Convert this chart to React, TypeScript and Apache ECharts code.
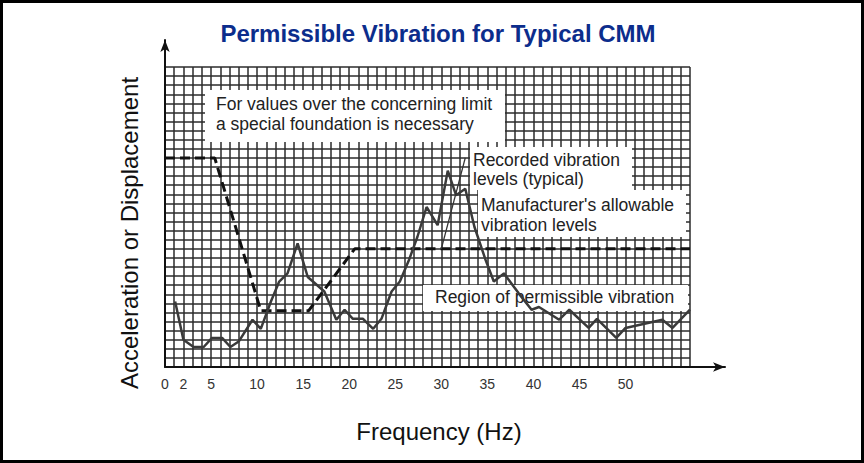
import React, { useEffect, useRef } from "react";
import * as echarts from "echarts";

// Frequency (Hz) / relative level (grid rows)
const recordedHz = [1.1, 2.0, 3.1, 4.2, 5.1, 6.2, 7.1, 8.0, 9.5, 10.4, 11.5, 12.4, 13.3, 14.4, 15.5, 17.3, 18.6, 19.5, 20.4, 21.5, 22.6, 23.5, 24.6, 25.5, 26.5, 27.4, 28.4, 29.6, 30.7, 31.6, 32.6, 33.6, 34.8, 35.7, 36.8, 38.4, 39.8, 40.6, 42.8, 43.9, 46.0, 46.9, 49.0, 50.0, 54.0, 55.1, 57.0];
const recordedLevel = [7.2, 3.0, 2.2, 2.2, 3.2, 3.2, 2.2, 2.8, 5.2, 4.2, 7.2, 9.4, 10.3, 13.6, 9.9, 8.3, 5.2, 6.3, 5.3, 5.3, 4.2, 5.3, 8.3, 9.4, 11.8, 14.3, 17.6, 15.6, 21.6, 18.9, 19.6, 15.4, 11.8, 9.4, 10.3, 8.1, 6.3, 6.6, 5.2, 6.3, 4.3, 5.3, 3.2, 4.3, 5.2, 4.3, 6.3];

const allowableHz = [0, 5.4, 10.4, 15.6, 20.6, 57];
const allowableLevel = [23.0, 23.0, 6.2, 6.2, 13.0, 13.0];

const leaderHz = [30.0, 32.6];
const leaderLevel = [13.0, 23.0];

const tickLabels = [0, 2, 5, 10, 15, 20, 25, 30, 35, 40, 45, 50];

const zip = (xs: number[], ys: number[]) => xs.map((x, i) => [x, ys[i]]);

export default function App() {
  const ref = useRef<HTMLDivElement>(null);
  useEffect(() => {
    if (!ref.current) return;
    const chart = echarts.init(ref.current, null, { renderer: "svg" });
    const boxFont = "17.5px 'Liberation Sans', Arial, sans-serif";
    const textColor = "#222";
    chart.setOption({
      animation: false,
      backgroundColor: "#fff",
      grid: [
        { left: 165, right: 174, top: 67, bottom: 96 },
        { left: 165, right: 139, top: 40, bottom: 96 },
      ],
      xAxis: [
        {
          gridIndex: 0,
          type: "value",
          min: 0,
          max: 57,
          interval: 1,
          axisLine: { show: false },
          axisTick: { show: false },
          splitLine: { show: true, lineStyle: { color: "#2b2b2b", width: 1.5 } },
          axisLabel: {
            show: true,
            margin: 10,
            color: "#333",
            fontSize: 14,
            fontFamily: "'Liberation Sans', Arial, sans-serif",
            showMinLabel: true,
            showMaxLabel: true,
            interval: 0,
            formatter: (v: number) => (tickLabels.includes(v) ? String(v) : ""),
          },
        },
        {
          gridIndex: 1,
          type: "value",
          min: 0,
          max: 1,
          axisLine: { show: true, onZero: false, symbol: ["none", "arrow"], symbolSize: [7, 12], lineStyle: { color: "#111", width: 2 } },
          axisTick: { show: false },
          axisLabel: { show: false },
          splitLine: { show: false },
        },
      ],
      yAxis: [
        {
          gridIndex: 0,
          type: "value",
          min: 0,
          max: 33,
          interval: 1,
          axisLine: { show: false },
          axisTick: { show: false },
          axisLabel: { show: false },
          splitLine: { show: true, lineStyle: { color: "#2b2b2b", width: 1.5 } },
        },
        {
          gridIndex: 1,
          type: "value",
          min: 0,
          max: 1,
          axisLine: { show: true, onZero: false, symbol: ["none", "arrow"], symbolSize: [7, 12], lineStyle: { color: "#111", width: 2 } },
          axisTick: { show: false },
          axisLabel: { show: false },
          splitLine: { show: false },
        },
      ],
      series: [
        {
          name: "Manufacturer's allowable vibration levels",
          type: "line",
          xAxisIndex: 0,
          yAxisIndex: 0,
          data: zip(allowableHz, allowableLevel),
          symbol: "none",
          z: 5,
          lineStyle: { color: "#111", width: 3, type: [10, 5] },
        },
        {
          name: "Recorded vibration levels (typical)",
          type: "line",
          xAxisIndex: 0,
          yAxisIndex: 0,
          data: zip(recordedHz, recordedLevel),
          symbol: "none",
          z: 6,
          lineStyle: { color: "#3a3a3a", width: 2.5 },
        },
        {
          name: "leader",
          type: "line",
          xAxisIndex: 0,
          yAxisIndex: 0,
          data: zip(leaderHz, leaderLevel),
          symbol: "none",
          z: 6,
          lineStyle: { color: "#333", width: 1.3 },
        },
      ],
      graphic: [
        { type: "rect", z: 1, shape: { x: 205, y: 90, width: 300, height: 52 }, style: { fill: "#fff" } },
        { type: "rect", z: 1, shape: { x: 470, y: 147, width: 162, height: 43 }, style: { fill: "#fff" } },
        { type: "rect", z: 1, shape: { x: 478, y: 190, width: 208, height: 47 }, style: { fill: "#fff" } },
        { type: "rect", z: 1, shape: { x: 423, y: 285, width: 265, height: 26 }, style: { fill: "#fff" } },
        {
          type: "text", z: 2, x: 216, y: 94,
          style: { text: "For values over the concerning limit\na special foundation is necessary", font: boxFont, fill: textColor, textVerticalAlign: "top", lineHeight: 20 },
        },
        {
          type: "text", z: 2, x: 473, y: 151,
          style: { text: "Recorded vibration\nlevels (typical)", font: boxFont, fill: textColor, textVerticalAlign: "top", lineHeight: 18.5 },
        },
        {
          type: "text", z: 2, x: 481, y: 195,
          style: { text: "Manufacturer's allowable\nvibration levels", font: boxFont, fill: textColor, textVerticalAlign: "top", lineHeight: 20 },
        },
        {
          type: "text", z: 2, x: 435, y: 297,
          style: { text: "Region of permissible vibration", font: boxFont, fill: textColor, textVerticalAlign: "middle" },
        },
        {
          type: "text", z: 10, x: 438, y: 33,
          style: { text: "Permissible Vibration for Typical CMM", font: "bold 24px 'Liberation Sans', Arial, sans-serif", fill: "#0c2d8c", textAlign: "center", textVerticalAlign: "middle" },
        },
        {
          type: "text", z: 10, x: 439, y: 431,
          style: { text: "Frequency (Hz)", font: "24px 'Liberation Sans', Arial, sans-serif", fill: "#111", textAlign: "center", textVerticalAlign: "middle" },
        },
        {
          type: "text", z: 10, x: 129, y: 233, rotation: Math.PI / 2,
          style: { text: "Acceleration or Displacement", font: "24px 'Liberation Sans', Arial, sans-serif", fill: "#111", textAlign: "center", textVerticalAlign: "middle" },
        },
        {
          type: "rect", z: 20, shape: { x: 1.5, y: 1.5, width: 861, height: 460 },
          style: { fill: "none", stroke: "#000", lineWidth: 3 },
        },
      ],
    });
    return () => chart.dispose();
  }, []);
  return (
    <div
      ref={ref}
      style={{ position: "fixed", left: 0, top: 0, width: 864, height: 463 }}
    />
  );
}
